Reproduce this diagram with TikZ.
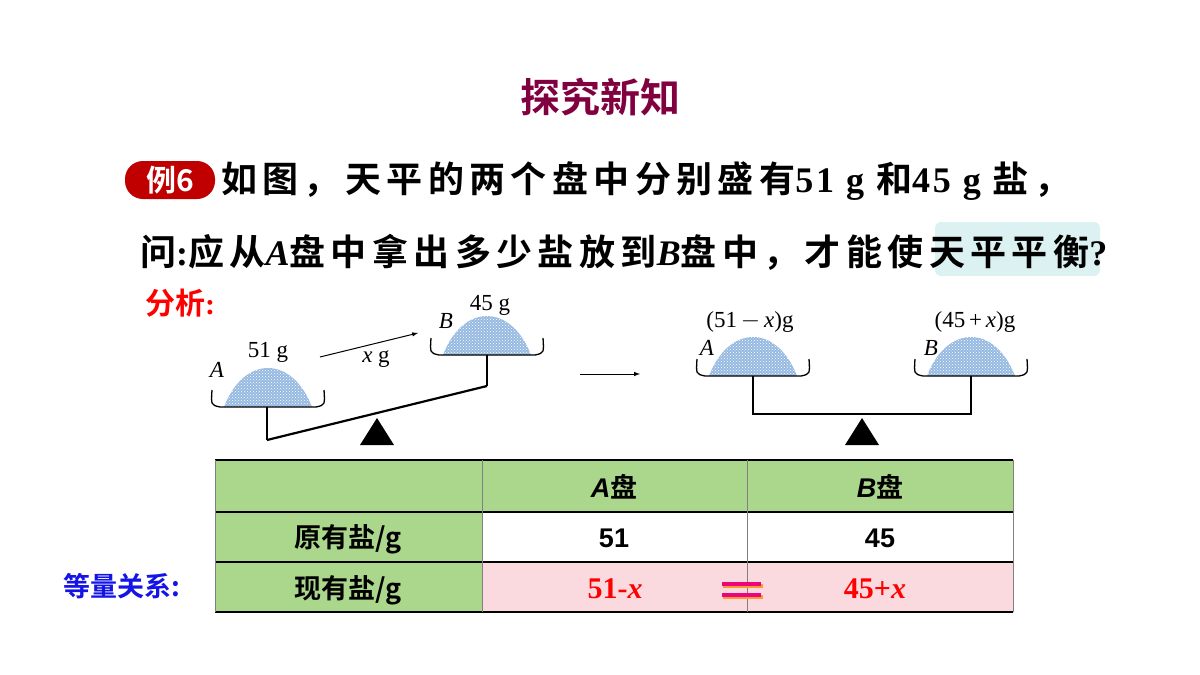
\documentclass[tikz,border=0pt]{standalone}
\usepackage{fontspec}
\setmainfont{Liberation Serif}
\setsansfont{Liberation Sans}
\newfontfamily\cjk{Noto Sans CJK SC}[BoldFont={Noto Sans CJK SC Bold}]
\newfontfamily\cjkw{Noto Sans CJK SC}[BoldFont={Noto Sans CJK SC Bold},LetterSpace=15]
\newfontfamily\serw{Liberation Serif}[LetterSpace=8]
\usetikzlibrary{patterns}
\definecolor{titlec}{RGB}{128,0,64}
\definecolor{badge}{RGB}{192,0,0}
\definecolor{hl}{RGB}{220,242,242}
\definecolor{tgreen}{RGB}{170,215,140}
\definecolor{tpink}{RGB}{250,218,222}
\definecolor{saltc}{RGB}{150,185,225}
\definecolor{eqblue}{RGB}{20,20,230}
\tikzset{
  salt/.style={fill=saltc},
  saltdots/.style={pattern=crosshatch dots,pattern color=white},
  lbl/.style={font=\fontsize{23}{23}\selectfont\itshape,inner sep=0pt},
  wt/.style={font=\fontsize{23}{23}\selectfont,inner sep=0pt},
  cell/.style={font=\fontsize{27}{27}\selectfont\bfseries\sffamily,inner sep=0pt},
  cjkcell/.style={font=\fontsize{27}{27}\selectfont\cjk\bfseries,inner sep=0pt},
}
\newcommand{\pan}[2]{% centre x, bottom y
  \fill[salt] (#1-44,#2) .. controls (#1-24,#2-52) and (#1+24,#2-52) .. (#1+44,#2) -- cycle;
  \fill[saltdots] (#1-44,#2) .. controls (#1-24,#2-52) and (#1+24,#2-52) .. (#1+44,#2) -- cycle;
  \draw[line width=1.3pt] (#1-56,#2-17) .. controls (#1-57,#2-2) .. (#1-48,#2) -- (#1+48,#2) .. controls (#1+57,#2-2) .. (#1+56,#2-17);
}
\begin{document}
\begin{tikzpicture}[x=1pt,y=-1pt]
  \useasboundingbox (0,0) rectangle (1200,675);
  % heading
  \node[font=\fontsize{40}{40}\selectfont\cjk\bfseries,text=titlec] (title) at (600,97) {探究新知};
  \fill[hl,rounded corners=6pt] (935,222) rectangle (1100,276);
  \node[fill=badge,text=white,rounded corners=18pt,minimum width=90pt,minimum height=38pt,inner sep=0pt,
        font=\fontsize{30}{30}\selectfont\bfseries\cjk] (ex) at (170,180) {例6};
  \node[anchor=west,inner sep=0pt,font=\fontsize{36}{36}\selectfont\bfseries] (line1) at (221,181)
    {\cjkw 如图，天平的两个盘中分别盛有\serw 51 g \cjkw 和\serw 45 g \cjkw 盐，};
  \node[anchor=west,inner sep=0pt,font=\fontsize{36}{36}\selectfont\bfseries] (line2) at (140,252)
    {\cjkw 问\serw:\cjkw 应从\serw\itshape A\cjkw\upshape 盘中拿出多少盐放到\serw\itshape B\cjkw\upshape 盘中，才能使天平平衡\serw ?};
  \node[anchor=west,inner sep=0pt,text=red,font=\fontsize{30}{30}\selectfont\bfseries] (ana) at (145,303) {\cjk 分析\rmfamily:};
  % tilted balance
  \pan{268}{407}
  \pan{487}{355}
  \coordinate (sa) at (267,407); \coordinate (sa2) at (267,440);
  \coordinate (sb) at (487,355); \coordinate (sb2) at (487,386);
  \draw[line width=1.2pt] (sa) -- (sa2);
  \draw[line width=1.2pt] (sb) -- (sb2);
  \draw[line width=2.2pt] (sa2) -- (sb2);
  \fill (377,418) -- (394,445) -- (360,445) -- cycle;
  \node[lbl] (la) at (217,370) {A};
  \node[wt] (wa) at (268,352) {51 g};
  \node[lbl] (lb) at (446,321) {B};
  \node[wt] (wb) at (490,305) {45 g};
  \coordinate (mvs) at (320,357); \coordinate (mve) at (418,333);
  \draw[-latex,line width=1pt] (mvs) -- (mve);
  \node[wt] (mx) at (376,359) {\itshape x\upshape\ g};
  \coordinate (tos) at (580,374); \coordinate (toe) at (640,374);
  \draw[-latex,line width=1pt] (tos) -- (toe);
  % level balance
  \pan{753}{376}
  \pan{971}{376}
  \coordinate (ra) at (753,376); \coordinate (ra2) at (753,414);
  \coordinate (rb) at (971,376); \coordinate (rb2) at (971,414);
  \draw[line width=1.5pt] (ra) -- (ra2) -- (rb2) -- (rb);
  \fill (862,418) -- (879,445) -- (845,445) -- cycle;
  \node[wt] (ra3) at (750,322) {(51\,$-$\,\itshape x\upshape)g};
  \node[lbl] (lra) at (707,348) {A};
  \node[wt] (rb3) at (975,322) {(45\,+\,\itshape x\upshape)g};
  \node[lbl] (lrb) at (931,348) {B};
  % table
  \fill[tgreen] (215,460) rectangle (1013,512);
  \fill[tgreen] (215,512) rectangle (482,612);
  \fill[tpink] (482,562) rectangle (1013,612);
  \foreach \yy in {460,512,562,612} \draw[line width=1.6pt] (215,\yy) -- (1013,\yy);
  \foreach \xx in {215,482,747,1013} \draw[line width=0.8pt,gray] (\xx,460) -- (\xx,612);
  \node[cell] (ha) at (614,487) {\itshape A\upshape\cjk 盘};
  \node[cell] (hb) at (880,487) {\itshape B\upshape\cjk 盘};
  \node[cjkcell] (r1) at (348,539) {原有盐/g};
  \node[cjkcell] (r2) at (348,590) {现有盐/g};
  \node[cell] (va) at (614,538) {51};
  \node[cell] (vb) at (880,538) {45};
  \node[inner sep=0pt,text=red,font=\fontsize{30}{30}\selectfont\bfseries] (ea) at (615,589) {51-\itshape x};
  \node[inner sep=0pt,text=red,font=\fontsize{30}{30}\selectfont\bfseries] (eb) at (875,589) {45+\itshape x};
  \fill[orange!80] (723,584) rectangle (763,588);
  \fill[orange!80] (723,595) rectangle (763,599);
  \fill[magenta!85!red] (722,582) rectangle (761,586);
  \fill[magenta!85!red] (722,593) rectangle (761,597);
  \node[inner sep=0pt,text=eqblue,font=\fontsize{27}{27}\selectfont\bfseries\cjk] (eq) at (122,586) {等量关系:};
\end{tikzpicture}
\end{document}
